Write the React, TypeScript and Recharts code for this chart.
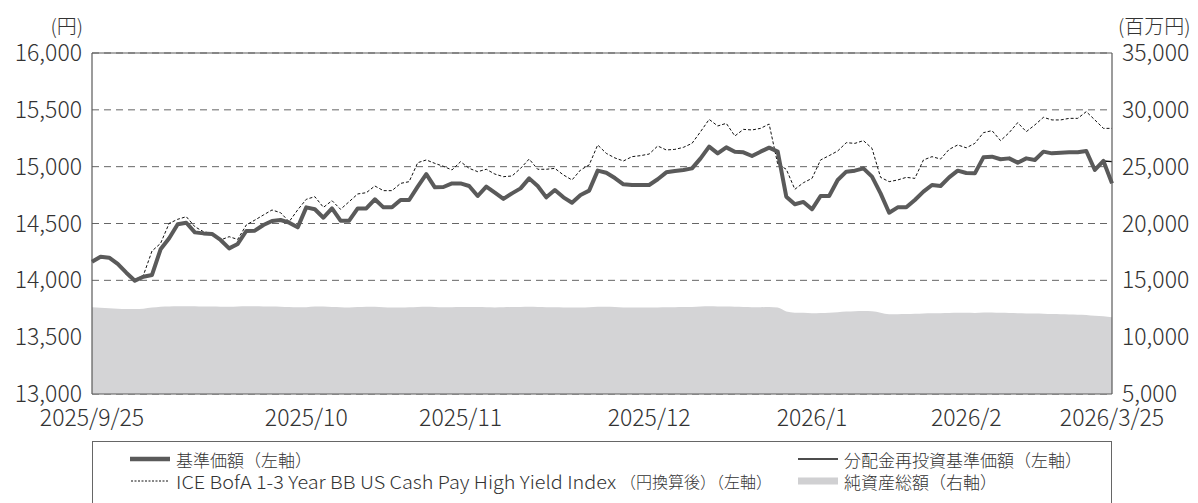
import React from "react";
import {
  ComposedChart,
  Line,
  Area,
  XAxis,
  YAxis,
  CartesianGrid,
  ReferenceLine,
} from "recharts";

const navBase = [
  14164, 14208, 14199, 14144, 14067, 13997, 14032, 14047, 14273, 14370,
  14493, 14507, 14422, 14413, 14408, 14355, 14281, 14320, 14434, 14437,
  14487, 14522, 14531, 14507, 14466, 14642, 14625, 14551, 14633, 14525,
  14525, 14633, 14633, 14713, 14642, 14642, 14707, 14707, 14824, 14935,
  14818, 14821, 14853, 14853, 14830, 14742, 14824, 14771, 14716, 14765,
  14809, 14897, 14830, 14730, 14795, 14730, 14683, 14751, 14789, 14965,
  14947, 14900, 14845, 14839, 14839, 14839, 14889, 14950, 14962, 14971,
  14985, 15073, 15176, 15117, 15170, 15132, 15126, 15094, 15132, 15167,
  15132, 14736, 14669, 14690, 14625, 14742, 14742, 14883, 14956, 14965,
  14985, 14912, 14765, 14595, 14642, 14642, 14707, 14780, 14839, 14830,
  14906, 14965, 14944, 14941, 15082, 15088, 15065, 15073, 15035, 15073,
  15059, 15132, 15117, 15123, 15126, 15126, 15138, 14971, 15050, 14853,
];

const navReinvest = [
  14164, 14208, 14199, 14144, 14067, 13997, 14032, 14047, 14273, 14370,
  14493, 14507, 14422, 14413, 14408, 14355, 14281, 14320, 14434, 14437,
  14487, 14522, 14531, 14507, 14466, 14642, 14625, 14551, 14633, 14525,
  14525, 14633, 14633, 14713, 14642, 14642, 14707, 14707, 14824, 14935,
  14818, 14821, 14853, 14853, 14830, 14742, 14824, 14771, 14716, 14765,
  14809, 14897, 14830, 14730, 14795, 14730, 14683, 14751, 14789, 14965,
  14947, 14900, 14845, 14839, 14839, 14839, 14889, 14950, 14962, 14971,
  14985, 15073, 15176, 15117, 15170, 15132, 15126, 15094, 15132, 15167,
  15132, 14736, 14669, 14690, 14625, 14742, 14742, 14883, 14956, 14965,
  14985, 14912, 14765, 14595, 14642, 14642, 14707, 14780, 14839, 14830,
  14906, 14965, 14944, 14941, 15082, 15088, 15065, 15073, 15035, 15073,
  15059, 15132, 15117, 15123, 15126, 15126, 15138, 14971, 15050, 15044,
];

const iceIndex = [
  14170, 14215, 14195, 14150, 14075, 14005, 14045, 14258, 14325, 14501,
  14537, 14560, 14472, 14428, 14413, 14355, 14384, 14360, 14487, 14530,
  14575, 14619, 14595, 14516, 14620, 14713, 14736, 14642, 14701, 14625,
  14692, 14760, 14771, 14830, 14789, 14789, 14853, 14868, 15035, 15059,
  15029, 15003, 14971, 15044, 14985, 14956, 14977, 14935, 14912, 14918,
  14985, 15067, 14977, 14977, 14985, 14927, 14883, 14971, 15015, 15191,
  15117, 15077, 15050, 15088, 15097, 15111, 15182, 15147, 15152, 15170,
  15205, 15308, 15416, 15358, 15381, 15270, 15328, 15323, 15337, 15375,
  15023, 14977, 14801, 14859, 14897, 15059, 15097, 15138, 15211, 15205,
  15229, 15161, 14906, 14868, 14883, 14906, 14897, 15059, 15088, 15067,
  15152, 15191, 15166, 15205, 15299, 15317, 15229, 15299, 15387, 15308,
  15367, 15434, 15411, 15411, 15425, 15425, 15484, 15411, 15337, 15337,
];

const netAssets = [
  12630, 12590, 12540, 12500, 12480, 12470, 12500, 12600, 12680, 12700,
  12720, 12730, 12720, 12700, 12700, 12680, 12680, 12700, 12720, 12720,
  12700, 12690, 12680, 12650, 12630, 12640, 12700, 12690, 12660, 12640,
  12620, 12650, 12680, 12670, 12640, 12620, 12610, 12630, 12660, 12680,
  12660, 12640, 12640, 12650, 12660, 12650, 12630, 12620, 12630, 12650,
  12660, 12680, 12660, 12640, 12630, 12620, 12600, 12610, 12640, 12680,
  12670, 12650, 12620, 12600, 12600, 12600, 12610, 12630, 12640, 12650,
  12660, 12700, 12720, 12700, 12690, 12670, 12650, 12640, 12640, 12650,
  12600, 12250, 12150, 12140, 12100, 12120, 12150, 12200, 12260, 12290,
  12300, 12280, 12150, 12020, 12020, 12030, 12050, 12080, 12100, 12110,
  12130, 12150, 12140, 12130, 12160, 12170, 12140, 12120, 12100, 12090,
  12080, 12070, 12040, 12020, 12000, 11980, 11960, 11880, 11840, 11760,
];

const xTickIndex = [0, 25, 43, 65, 84, 102, 119];
const xTickLabels = ["2025/9/25", "2025/10", "2025/11", "2025/12", "2026/1", "2026/2", "2026/3/25"];
const leftTicks = [13000, 13500, 14000, 14500, 15000, 15500, 16000];
const rightTicks = [5000, 10000, 15000, 20000, 25000, 30000, 35000];

const legendLabels = {
  base: "基準価額（左軸）",
  reinvest: "分配金再投資基準価額（左軸）",
  indexLatin: "ICE BofA 1-3 Year BB US Cash Pay High Yield Index",
  indexJa: "（円換算後）（左軸）",
  assets: "純資産総額（右軸）",
};

const FONT = "'Noto Sans CJK JP', 'Noto Sans', sans-serif";
const TEXT = "#333333";
const AXIS = "#5a5a5a";

const data = navBase.map((v, i) => ({
  i,
  base: v,
  reinvest: navReinvest[i],
  index: iceIndex[i],
  assets: netAssets[i],
}));

const fmt = (v: number) => v.toLocaleString("en-US");

export default function App() {
  const tickStyle = { fill: TEXT, fontSize: 23, fontFamily: FONT, fontWeight: 300 };
  return (
    <div style={{ position: "absolute", left: 0, top: 0, width: 1198, height: 503, background: "#fff", fontFamily: FONT }}>
      <ComposedChart
        width={1198}
        height={503}
        data={data}
        margin={{ top: 53, right: 0, bottom: 79, left: 0 }}
      >
        <CartesianGrid
          yAxisId="left"
          vertical={false}
          stroke="#666"
          strokeDasharray="7 5"
        />
        <XAxis
          dataKey="i"
          type="number"
          domain={[0, 119]}
          ticks={xTickIndex}
          interval={0}
          tickFormatter={(v: number) => xTickLabels[xTickIndex.indexOf(v)]}
          tick={tickStyle}
          tickLine={false}
          tickSize={0}
          tickMargin={16}
          height={30}
          axisLine={{ stroke: AXIS, strokeWidth: 1.2 }}
        />
        <YAxis
          yAxisId="left"
          orientation="left"
          domain={[13000, 16000]}
          ticks={leftTicks}
          interval={0}
          tickFormatter={fmt}
          tick={tickStyle}
          tickLine={false}
          tickSize={0}
          tickMargin={10}
          width={92}
          axisLine={{ stroke: AXIS, strokeWidth: 1.2 }}
        />
        <YAxis
          yAxisId="right"
          orientation="right"
          domain={[5000, 35000]}
          ticks={rightTicks}
          interval={0}
          tickFormatter={fmt}
          tick={{ ...tickStyle, textAnchor: "start" }}
          tickLine={false}
          tickSize={0}
          tickMargin={10}
          width={86}
          axisLine={{ stroke: AXIS, strokeWidth: 1.2 }}
        />
        <Area
          yAxisId="right"
          type="monotone"
          dataKey="assets"
          fill="#d4d4d6"
          fillOpacity={1}
          stroke="none"
          isAnimationActive={false}
          dot={false}
          activeDot={false}
        />
        <ReferenceLine yAxisId="left" y={16000} stroke={AXIS} strokeWidth={1.2} />
        <Line
          yAxisId="left"
          type="linear"
          dataKey="index"
          stroke="#111"
          strokeWidth={1}
          strokeDasharray="3 2"
          dot={false}
          activeDot={false}
          isAnimationActive={false}
        />
        <Line
          yAxisId="left"
          type="linear"
          dataKey="reinvest"
          stroke="#111"
          strokeWidth={1.4}
          dot={false}
          activeDot={false}
          isAnimationActive={false}
        />
        <Line
          yAxisId="left"
          type="linear"
          dataKey="base"
          stroke="#5a5a5a"
          strokeWidth={4}
          strokeLinejoin="round"
          dot={false}
          activeDot={false}
          isAnimationActive={false}
        />
      </ComposedChart>

      <svg width={1198} height={503} style={{ position: "absolute", left: 0, top: 0, pointerEvents: "none" }}>
        <text x={83} y={25} textAnchor="end" dominantBaseline="central" fontSize={20} fontFamily={FONT} fontWeight={300} fill={TEXT}>(円)</text>
        <text x={1118} y={25} dominantBaseline="central" fontSize={20} fontFamily={FONT} fontWeight={300} fill={TEXT}>(百万円)</text>

        <rect x={92.5} y={441.5} width={1019} height={80} fill="none" stroke="#666" strokeWidth={1} />
        <line x1={130} y1={459} x2={170} y2={459} stroke="#5a5a5a" strokeWidth={4.5} />
        <text x={176} y={459} dominantBaseline="central" fontSize={17} fontFamily={FONT} fontWeight={300} fill={TEXT}>{legendLabels.base}</text>
        <line x1={798} y1={459} x2={838} y2={459} stroke="#111" strokeWidth={1.5} />
        <text x={844} y={459} dominantBaseline="central" fontSize={17} fontFamily={FONT} fontWeight={300} fill={TEXT}>{legendLabels.reinvest}</text>
        <line x1={131} y1={481} x2={168} y2={481} stroke="#111" strokeWidth={1} strokeDasharray="2 1.5" />
        <text x={176} y={481} dominantBaseline="central" fontSize={18} fontFamily={FONT} fontWeight={300} fill={TEXT} textLength={440} lengthAdjust="spacingAndGlyphs">{legendLabels.indexLatin}</text>
        <text x={620} y={481} dominantBaseline="central" fontSize={16} fontFamily={FONT} fontWeight={300} fill={TEXT}>{legendLabels.indexJa}</text>
        <line x1={798} y1={481} x2={838} y2={481} stroke="#d0d0d2" strokeWidth={7} />
        <text x={844} y={481} dominantBaseline="central" fontSize={17} fontFamily={FONT} fontWeight={300} fill={TEXT}>{legendLabels.assets}</text>
      </svg>
    </div>
  );
}
